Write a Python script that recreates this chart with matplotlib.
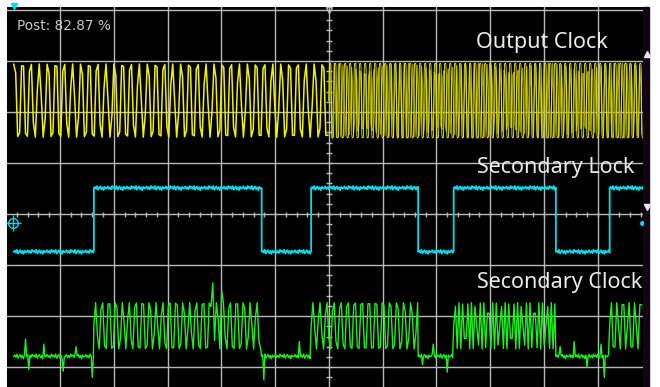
import numpy as np
import matplotlib.pyplot as plt
from matplotlib.patches import Rectangle

# screen in divisions (x: 53.8 px/div, y: 51 px/div), capture cropped right/bottom
x_left, x_right = -5.985, 5.84
y_bottom, y_top = -3.39, 4.06
trace_start, trace_end = -5.86, 5.84

# Secondary Lock (cyan): edge positions and state between edges
lock_edges = [-5.86, -4.37, -1.25, -0.33, 1.66, 2.32, 4.22, 5.22, 5.84]
lock_states = [0, 1, 0, 1, 0, 1, 0, 1]
lock_high = 0.51
lock_low = -0.74

# Output Clock (yellow)
out_top = 2.96
out_bottom = 1.49
out_period_left = 0.155
out_period_right = 0.0812
out_split = 0.0

# Secondary Clock (green)
sec_idle = -2.79
sec_top = -1.73
sec_bottom = -2.65
sec_burst_periods = [0.125, 0.13, 0.078, 0.11]
sec_spike_x = [-5.65, -5.58, -5.3, -4.95, -4.7, -4.4, -2.15, -2.0, -1.62, -1.2, -0.55, 1.75, 1.95, 2.2, 4.3, 4.55, 4.8, 5.05, 5.12]
sec_spike_y = [-2.45, -3.05, -2.55, -3.08, -2.6, -3.2, -1.35, -1.5, -2.55, -3.25, -2.5, -2.95, -2.55, -3.1, -2.6, -2.5, -3.0, -2.55, -3.2]

# small ripple pattern for the flat levels
ripple = [0.0, 0.03, -0.02, 0.05, -0.04, 0.01, 0.04, -0.03, 0.02, -0.05, 0.03, -0.01, 0.0, 0.04, -0.02, 0.02, -0.03, 0.05]

grid_color = '#b9b9b9'
yellow = '#f2f200'
cyan = '#00dcea'
green = '#1cf01c'

fig = plt.figure(figsize=(6.6, 3.87), dpi=100)
fig.patch.set_facecolor('white')
ax = fig.add_axes([7 / 660, 0, (643 - 7) / 660, (387 - 7) / 387])
ax.set_facecolor('black')
ax.set_xlim(x_left, x_right)
ax.set_ylim(y_bottom, y_top)
ax.set_xticks([])
ax.set_yticks([])
for sp in ax.spines.values():
    sp.set_visible(False)
# dark strip at the right edge of the capture
fig.add_artist(Rectangle((643 / 660, 0), 6 / 660, (387 - 7) / 387,
                         transform=fig.transFigure, color='#120612', zorder=0))

# grid
for gx in range(-5, 6):
    ax.axvline(gx, color=grid_color, lw=1.0, zorder=1)
for gy in range(-3, 5):
    ax.axhline(gy, color=grid_color, lw=1.0, zorder=1)
# centre ticks
tx = np.arange(-5.8, 5.85, 0.2)
ax.vlines(tx, -0.05, 0.05, color=grid_color, lw=1.0, zorder=1)
ty = np.arange(-3.2, 4.0, 0.2)
ax.hlines(ty, -0.06, 0.06, color=grid_color, lw=1.0, zorder=1)

step = 0.02

# Secondary Lock
lx, ly = [], []
for i, st in enumerate(lock_states):
    seg = np.arange(lock_edges[i], lock_edges[i + 1], step)
    seg = np.append(seg, lock_edges[i + 1])
    level = lock_high if st else lock_low
    rp = np.resize(np.array(ripple) * 0.8, len(seg))
    lx.extend(seg)
    ly.extend(level + rp)
ax.plot(lx, ly, color=cyan, lw=1.3, zorder=3)

# Output Clock (left part sampled coarsely like the scope display)
mid = (out_top + out_bottom) / 2
amp = (out_top - out_bottom) / 2
xl = np.arange(trace_start, out_split, 0.0365)
yl = mid + amp * np.tanh(2.2 * np.sin(2 * np.pi * xl / out_period_left))
xr = np.arange(out_split, trace_end, step)
yr = mid + amp * np.sin(2 * np.pi * xr / out_period_right)
ax.plot(xr, yr, color='#9a9a00', lw=0.9, zorder=2)
xs = np.arange(out_split, trace_end, 0.003)
ys = mid + amp * np.tanh(3 * np.sin(2 * np.pi * xs / 0.093))
ax.plot(xs, ys, color=yellow, lw=0.6, zorder=2)
ax.plot(xl, yl, color=yellow, lw=1.1, zorder=2)

# Secondary Clock
gx_all, gy_all = [], []
burst = 0
for i, st in enumerate(lock_states):
    if st:
        p = sec_burst_periods[burst]
        burst += 1
        seg = np.arange(lock_edges[i], lock_edges[i + 1], 0.033)
        m = (sec_top + sec_bottom) / 2
        a = (sec_top - sec_bottom) / 2
        phase = 2 * np.pi * (seg - lock_edges[i]) / p
        val = m + a * np.tanh(2.5 * np.sin(phase))
    else:
        seg = np.arange(lock_edges[i], lock_edges[i + 1], step)
        val = sec_idle + np.resize(ripple, len(seg)) * 0.9
    gx_all.extend(seg)
    gy_all.extend(val)
gx_all = np.array(gx_all)
gy_all = np.array(gy_all)
for sx, sy in zip(sec_spike_x, sec_spike_y):
    k = np.argmin(np.abs(gx_all - sx))
    gy_all[k] = sy
ax.plot(gx_all, gy_all, color=green, lw=1.0, zorder=3)

# labels
label_kw = dict(color='#ebebeb', fontsize=15.5, family='Noto Sans', va='baseline', zorder=6)
ax.text(2.73, 3.25, 'Output Clock', **label_kw)
ax.text(2.75, 0.80, 'Secondary Lock', **label_kw)
ax.text(2.75, -1.45, 'Secondary Clock', **label_kw)
ax.text(-5.80, 3.60, 'Post: 82.87 %', color='#c8c8c8', fontsize=9.8,
        family='DejaVu Sans', va='baseline', zorder=6)

# screen markers
ax.plot([-5.87], [-0.18], marker='o', ms=7, mfc='none', mec=cyan, mew=1.0, zorder=4)
ax.plot([-5.87], [-0.18], marker='+', ms=11, color=cyan, mew=1.0, zorder=4)
ax.plot([5.83], [-0.17], marker='o', ms=2.5, color=cyan, zorder=4)
ax.plot([5.92], [3.14], marker='^', ms=4, color='#e8e8e8', clip_on=False, zorder=4)
ax.plot([5.92], [0.14], marker='v', ms=5, color='#e8e8e8', clip_on=False, zorder=4)
ax.plot([-5.86], [4.08], marker='v', ms=5, color=cyan, clip_on=False, zorder=4)
ax.plot([0], [4.0], marker='v', ms=5, mfc='none', mec=grid_color, clip_on=False, zorder=4)

fig.savefig('out.png', dpi=100, facecolor='white')
